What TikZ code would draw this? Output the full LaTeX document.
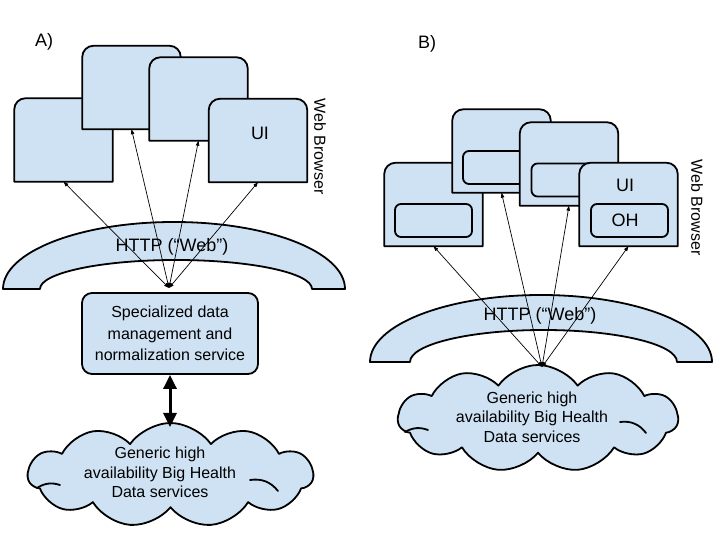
\documentclass[tikz,border=0pt]{standalone}
\usepackage{fontspec}
\setmainfont{Liberation Sans}
\usetikzlibrary{arrows.meta,shapes.symbols}
\definecolor{fillblue}{HTML}{CFE2F3}
\tikzset{
  shapeline/.style={draw=black, line width=1.8pt, fill=fillblue, line join=round},
  winnode/.style={inner sep=0pt, minimum width=98pt, minimum height=83pt},
  innerbox/.style={shapeline, rounded corners=6pt, inner sep=0pt, minimum width=77pt, minimum height=33pt},
  link/.style={line width=0.7pt, {Triangle[length=5pt,width=3.5pt]}-{Triangle[length=5pt,width=3.5pt]}},
  bigtxt/.style={font=\fontsize{18}{21}\selectfont},
  txt/.style={font=\fontsize{16}{19.5}\selectfont, align=center},
  boxtxt/.style={font=\fontsize{16}{21.5}\selectfont, align=center},
  cloudshape/.style={cloud, shapeline, cloud puffs=11, cloud puff arc=110, cloud ignores aspect, inner sep=0pt},
  curl/.style={draw=black, line width=1.8pt, line cap=round},
  bigarrow/.style={line width=3pt, {Triangle[length=14pt,width=13pt]}-{Triangle[length=14pt,width=13pt]}},
}
\newcommand\winshape[1]{\path[shapeline] (#1.south west) -- ([yshift=-11pt]#1.north west) arc[start angle=180,end angle=90,radius=11pt] -- ([xshift=-11pt]#1.north east) arc[start angle=90,end angle=0,radius=11pt] -- (#1.south east) -- cycle;}
\begin{document}
\begin{tikzpicture}[x=1pt,y=1pt]
\useasboundingbox (0,0) rectangle (720,540);
% ---------------- Panel A ----------------
\node[bigtxt] (labA) at (44,498) {A)};
\node[winnode] (WA1) at (63.5,400) {};   \winshape{WA1}
\node[winnode] (WA2) at (131.5,452.5) {}; \winshape{WA2}
\node[winnode] (WA3) at (198.5,441) {};  \winshape{WA3}
\node[winnode] (WA4) at (258,399.5) {};  \winshape{WA4}
\node[bigtxt] (uiA) at (260,407) {UI};
\node[txt, rotate=-90] (wbA) at (320,393.5) {Web Browser};
% HTTP band A
\path[shapeline] (3,251) arc[start angle=180,end angle=0,x radius=171,y radius=67]
  -- (312,251) arc[start angle=0,end angle=180,x radius=136,y radius=29] -- cycle;
\node[bigtxt] (httpA) at (172,293) {HTTP (“Web”)};
\coordinate (fA) at (169,252);
\draw[link] (fA) -- (WA1.south);
\draw[link] (fA) -- (WA2.south);
\draw[link] (fA) -- (WA3.south);
\draw[link] (fA) -- (WA4.south);
% service box
\node[shapeline, rounded corners=10pt, minimum width=176pt, minimum height=81pt, inner sep=0pt, boxtxt] (svc) at (170,206.5) {Specialized data\\management and\\normalization service};
% cloud A
\node[cloudshape, minimum width=285pt, minimum height=104pt] (cloudA) at (170.5,65) {};
\draw[curl] (37,52) to[bend left=25] (60,55);
\draw[curl] (250,60) to[bend left=30] (278,49);
\node[txt] (cloudAtxt) at (160,67.5) {Generic high\\availability Big Health\\Data services};
\coordinate (cA) at (170,113);
\draw[bigarrow] (svc.south) -- (cA);
% ---------------- Panel B ----------------
\node[bigtxt] (labB) at (427,496) {B)};
\node[winnode] (WB1) at (433.5,335.5) {}; \winshape{WB1}
\node[innerbox] (IB1) at (433.5,319.5) {};
\node[winnode] (WB2) at (501.5,389) {};   \winshape{WB2}
\node[innerbox] (IB2) at (501.5,372.5) {};
\node[winnode] (WB3) at (569,376) {};     \winshape{WB3}
\node[innerbox] (IB3) at (570,360) {};
\node[winnode] (WB4) at (628.5,335.5) {}; \winshape{WB4}
\node[innerbox] (IB4) at (629.5,319.5) {};
\node[bigtxt] (uiB) at (625,355) {UI};
\node[bigtxt] (ohB) at (625,319.5) {OH};
\node[txt, rotate=-90] (wbB) at (697,332.5) {Web Browser};
% HTTP band B
\path[shapeline] (370,178) arc[start angle=180,end angle=0,x radius=171,y radius=67]
  -- (677,178) arc[start angle=0,end angle=180,x radius=133.5,y radius=32] -- cycle;
\node[bigtxt] (httpB) at (540,224) {HTTP (“Web”)};
% cloud B
\node[cloudshape, minimum width=280pt, minimum height=107pt] (cloudB) at (538,121.5) {};
\draw[curl] (405,108) to[bend left=25] (428,110);
\draw[curl] (620,118) to[bend left=30] (646,107);
\node[txt] (cloudBtxt) at (532,123) {Generic high\\availability Big Health\\Data services};
\coordinate (fB) at (542,173);
\draw[link] (fB) -- (WB1.south);
\draw[link] (fB) -- (WB2.south);
\draw[link] (fB) -- (WB3.south);
\draw[link] (fB) -- (WB4.south);
\end{tikzpicture}
\end{document}
